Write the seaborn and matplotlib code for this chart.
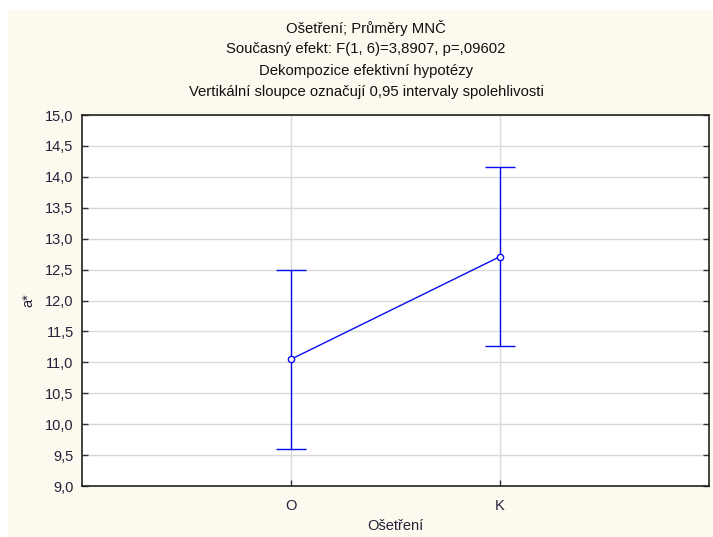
import numpy as np
import pandas as pd
import matplotlib
matplotlib.use("Agg")
import matplotlib.pyplot as plt
from matplotlib.patches import Rectangle
import seaborn as sns

# Least-squares means with 0.95 confidence intervals
groups = ["O", "K"]
means = [11.05, 12.71]
ci_low = [9.60, 11.26]
ci_high = [12.50, 14.16]

title_lines = [
    "Ošetření; Průměry MNČ",
    "Současný efekt: F(1, 6)=3,8907, p=,09602",
    "Dekompozice efektivní hypotézy",
    "Vertikální sloupce označují 0,95 intervaly spolehlivosti",
]
y_ticks = [9.0, 9.5, 10.0, 10.5, 11.0, 11.5, 12.0, 12.5, 13.0, 13.5, 14.0, 14.5, 15.0]

df = pd.DataFrame({"Ošetření": groups, "a*": means,
                   "lo": ci_low, "hi": ci_high})

sns.set_style("white")
plt.rcParams["font.family"] = ["Liberation Sans", "DejaVu Sans"]

W, H = 713, 537
fig = plt.figure(figsize=(W / 100, H / 100), dpi=100)
fig.patch.set_facecolor("white")
# cream panel behind everything
fig.patches.append(Rectangle((8 / W, 0), 1, 1 - 10 / H, transform=fig.transFigure,
                             facecolor="#fef9ee", edgecolor="none", zorder=-10))
ax = fig.add_axes([82 / W, 51 / H, 627 / W, 371 / H])
ax.set_facecolor("white")

blue = "#0a0aee"
sns.lineplot(data=df, x="Ošetření", y="a*", ax=ax, color=blue, linewidth=1,
             marker="o", markersize=4.5, markerfacecolor="white",
             markeredgecolor=blue, markeredgewidth=1, zorder=4)
yerr = [df["a*"] - df["lo"], df["hi"] - df["a*"]]
ax.errorbar(df["Ošetření"], df["a*"], yerr=yerr, fmt="none", ecolor=blue,
            elinewidth=1, capsize=11, capthick=1, zorder=3)

ax.set_xlim(-1, 2)
ax.set_ylim(9, 15)
ax.set_yticks(y_ticks)
ax.set_yticklabels([f"{v:.1f}".replace(".", ",") for v in y_ticks])
ax.grid(True, color="#dadada", linewidth=1)
ax.set_axisbelow(True)
for s in ax.spines.values():
    s.set_color("#222222")
    s.set_linewidth(1.2)

tick_color = "#22223a"
fs = 10.5
ax.tick_params(axis="both", direction="in", length=4, width=1, color="#333333",
               labelsize=fs, labelcolor=tick_color)
ax.tick_params(axis="y", pad=6, right=True, left=True)
ax.tick_params(axis="x", pad=9, bottom=True)

ax.set_xlabel("Ošetření", fontsize=fs, color=tick_color, labelpad=5)
ax.set_ylabel("a*", fontsize=fs, color=tick_color, labelpad=7)

# four-line heading, centred over the panel
for line, ypx in zip(title_lines, [28, 49.5, 71, 92]):
    fig.text(366 / W, 1 - ypx / H, line, ha="center", va="center",
             fontsize=10.7, color="#111111")

fig.savefig("out.png", dpi=100, facecolor=fig.get_facecolor())
